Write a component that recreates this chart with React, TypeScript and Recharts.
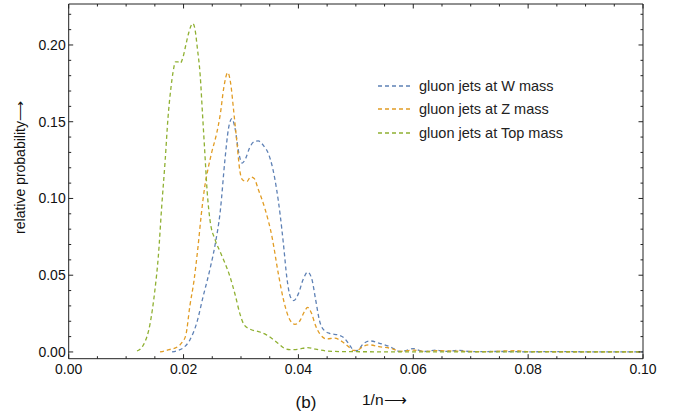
import React from 'react';
import { LineChart, Line, XAxis, YAxis, Legend } from 'recharts';

const wX = [0.018,0.019,0.02,0.0211,0.0223,0.0234,0.0246,0.0255,0.0264,0.0272,0.0278,0.0284,0.029,0.0296,0.0302,0.0308,0.0315,0.0323,0.033,0.034,0.0348,0.0355,0.0362,0.0368,0.0374,0.038,0.0386,0.0392,0.04,0.0408,0.0416,0.0423,0.043,0.0437,0.0445,0.0455,0.047,0.048,0.049,0.0497,0.0503,0.0512,0.0524,0.054,0.056,0.0577,0.059,0.06,0.061,0.062,0.064,0.0655,0.068,0.07,0.075,0.08,0.085,0.09,0.095,0.1];
const wY = [0,0.001,0.0028,0.0078,0.019,0.036,0.054,0.07,0.092,0.125,0.145,0.152,0.145,0.13,0.123,0.126,0.133,0.137,0.1375,0.134,0.129,0.12,0.106,0.09,0.07,0.048,0.036,0.0335,0.038,0.047,0.052,0.048,0.034,0.02,0.014,0.012,0.011,0.009,0.004,0.0008,0.001,0.005,0.0072,0.0058,0.0033,0.0003,0.0012,0.0022,0.001,0.0003,0.0012,0.0004,0.001,0.0002,0.0003,0.0001,0.0002,0.0001,0.0001,0];

const zX = [0.0159,0.0175,0.019,0.0197,0.0204,0.0211,0.0218,0.0225,0.0231,0.0237,0.0243,0.0249,0.0258,0.0264,0.027,0.0277,0.0282,0.0287,0.0293,0.0298,0.0303,0.031,0.0317,0.0323,0.033,0.0342,0.0354,0.0365,0.0374,0.0385,0.0394,0.0402,0.041,0.0416,0.0423,0.043,0.0437,0.0449,0.0463,0.0477,0.0487,0.0495,0.0503,0.0512,0.0524,0.054,0.056,0.0578,0.06,0.062,0.064,0.068,0.072,0.078,0.08,0.09,0.1];
const zY = [0,0.0015,0.0035,0.006,0.011,0.03,0.046,0.068,0.09,0.108,0.12,0.13,0.143,0.155,0.172,0.182,0.175,0.158,0.136,0.118,0.112,0.111,0.114,0.113,0.106,0.093,0.075,0.051,0.034,0.021,0.018,0.02,0.026,0.029,0.025,0.017,0.012,0.0085,0.009,0.0065,0.0035,0.001,0.0012,0.0035,0.0046,0.0035,0.0024,0.0004,0.0012,0.0003,0.0008,0.0005,0.0002,0.0008,0.0002,0.0001,0];

const tX = [0.0119,0.013,0.0142,0.015,0.0156,0.0162,0.0168,0.0173,0.0178,0.0182,0.0186,0.019,0.0194,0.0199,0.0204,0.0209,0.0216,0.022,0.0224,0.0229,0.0233,0.0237,0.0241,0.0246,0.0255,0.0264,0.0272,0.028,0.029,0.0298,0.0305,0.0315,0.0333,0.0345,0.0355,0.0365,0.0375,0.0385,0.04,0.0416,0.043,0.045,0.048,0.055,0.1];
const tY = [0.0006,0.0045,0.019,0.04,0.062,0.095,0.125,0.153,0.172,0.183,0.189,0.189,0.188,0.192,0.2,0.208,0.214,0.21,0.198,0.18,0.155,0.13,0.105,0.086,0.073,0.065,0.058,0.05,0.037,0.025,0.018,0.015,0.013,0.011,0.0085,0.0055,0.0025,0.0015,0.0018,0.0028,0.0018,0.0006,0.0002,0.0001,0];

const seriesKeys = ['w', 'z', 't'];
const seriesNames = ['gluon jets at W mass', 'gluon jets at Z mass', 'gluon jets at Top mass'];
const seriesColors = ['#5E81B5', '#E19C24', '#8FB032'];

const xMajorTicks = [0, 0.02, 0.04, 0.06, 0.08, 0.1];
const xAllTicks = [0,0.005,0.01,0.015,0.02,0.025,0.03,0.035,0.04,0.045,0.05,0.055,0.06,0.065,0.07,0.075,0.08,0.085,0.09,0.095,0.1];
const yMajorTicks = [0, 0.05, 0.1, 0.15, 0.2];
const yAllTicks = [0,0.01,0.02,0.03,0.04,0.05,0.06,0.07,0.08,0.09,0.1,0.11,0.12,0.13,0.14,0.15,0.16,0.17,0.18,0.19,0.2,0.21,0.22];

// merged table for the chart (union of x values)
const buildTable = () => {
  const map = new Map<number, any>();
  const add = (xs: number[], ys: number[], key: string) => {
    xs.forEach((x, i) => {
      const row = map.get(x) || { x };
      row[key] = ys[i];
      map.set(x, row);
    });
  };
  add(wX, wY, 'w');
  add(zX, zY, 'z');
  add(tX, tY, 't');
  return Array.from(map.values()).sort((a, b) => a.x - b.x);
};
const table = buildTable();

const FONT = '"Liberation Sans", Arial, sans-serif';
const X_DOMAIN: [number, number] = [0, 0.1];
const Y_DOMAIN: [number, number] = [-0.0044, 0.2267];
const frameColor = '#222';
const DASH = '4 3';
const MAJ = 4.5;
const MIN = 2.5;

const isMajor = (v: number, majors: number[]) => majors.some((m) => Math.abs(m - v) < 1e-9);

const BottomTick = (p: any) => {
  const v = p.payload.value;
  const major = isMajor(v, xMajorTicks);
  return (
    <g>
      <line x1={p.x} x2={p.x} y1={p.y} y2={p.y - (major ? MAJ : MIN)} stroke={frameColor} />
      {major && (
        <text x={p.x} y={p.y + 15} textAnchor="middle" style={{ fontFamily: FONT, fontSize: 14, fill: '#111' }}>
          {v.toFixed(2)}
        </text>
      )}
    </g>
  );
};
const TopTick = (p: any) => {
  const major = isMajor(p.payload.value, xMajorTicks);
  return <line x1={p.x} x2={p.x} y1={p.y} y2={p.y + (major ? MAJ : MIN)} stroke={frameColor} />;
};
const LeftTick = (p: any) => {
  const v = p.payload.value;
  const major = isMajor(v, yMajorTicks);
  return (
    <g>
      <line x1={p.x} x2={p.x + (major ? MAJ : MIN)} y1={p.y} y2={p.y} stroke={frameColor} />
      {major && (
        <text x={p.x - 3} y={p.y + 5} textAnchor="end" style={{ fontFamily: FONT, fontSize: 14, fill: '#111' }}>
          {v.toFixed(2)}
        </text>
      )}
    </g>
  );
};
const RightTick = (p: any) => {
  const major = isMajor(p.payload.value, yMajorTicks);
  return <line x1={p.x} x2={p.x - (major ? MAJ : MIN)} y1={p.y} y2={p.y} stroke={frameColor} />;
};

const LegendContent = (props: any) => {
  const payload = [...(props.payload || [])].sort(
    (a: any, b: any) => seriesNames.indexOf(a.value) - seriesNames.indexOf(b.value)
  );
  return (
    <div style={{ fontFamily: FONT, fontSize: 14.5, color: '#222' }}>
      {payload.map((p: any, i: number) => (
        <div key={i} style={{ display: 'flex', alignItems: 'center', height: 23.5 }}>
          <svg width={32} height={4} style={{ marginRight: 9 }}>
            <line x1={0} y1={2} x2={32} y2={2} stroke={p.color} strokeWidth={1.3} strokeDasharray={DASH} />
          </svg>
          <span>{p.value}</span>
        </div>
      ))}
    </div>
  );
};

export default function App() {
  return (
    <div style={{ position: 'relative', width: 684, height: 417, background: '#fff' }}>
      <style>{`body{margin:0}`}</style>
      <LineChart width={684} height={417} data={table} margin={{ top: 0, right: 21, bottom: 28.3, left: 8.7 }}>
        <XAxis xAxisId="main" type="number" dataKey="x" domain={X_DOMAIN} ticks={xAllTicks} interval={0}
          height={30} tickSize={0} tickMargin={0} tick={BottomTick} tickLine={false}
          axisLine={{ stroke: frameColor, strokeWidth: 1 }} allowDataOverflow />
        <XAxis xAxisId="top" orientation="top" type="number" dataKey="x" domain={X_DOMAIN} ticks={xAllTicks} interval={0}
          height={4} tickSize={0} tickMargin={0} tick={TopTick} tickLine={false}
          axisLine={{ stroke: frameColor }} allowDataOverflow />
        <YAxis yAxisId="main" type="number" domain={Y_DOMAIN} ticks={yAllTicks} interval={0}
          width={60} tickSize={0} tickMargin={0} tick={LeftTick} tickLine={false}
          axisLine={{ stroke: frameColor }} allowDataOverflow />
        <YAxis yAxisId="right" orientation="right" type="number" domain={Y_DOMAIN} ticks={yAllTicks} interval={0}
          width={20} tickSize={0} tickMargin={0} tick={RightTick} tickLine={false}
          axisLine={{ stroke: frameColor }} allowDataOverflow />
        {seriesKeys.map((k, i) => (
          <Line key={k} xAxisId="main" yAxisId="main" dataKey={k} name={seriesNames[i]} connectNulls
            type="monotone" stroke={seriesColors[i]} strokeWidth={1.3} strokeDasharray={DASH}
            dot={false} activeDot={false} isAnimationActive={false} />
        ))}
        <Legend layout="horizontal" verticalAlign="middle" align="center" content={LegendContent}
          wrapperStyle={{ position: 'absolute', left: 378, top: 74, width: 240 }} />
        <text x={20} y={167.5} transform="rotate(-90 20 167.5)" textAnchor="middle" dominantBaseline="central"
          style={{ fontFamily: FONT, fontSize: 14, fill: '#111' }}>relative probability⟶</text>
        <text x={306} y={402} textAnchor="middle" dominantBaseline="central"
          style={{ fontFamily: FONT, fontSize: 17, fill: '#111' }}>(b)</text>
        <text x={362} y={399} textAnchor="start" dominantBaseline="central"
          style={{ fontFamily: FONT, fontSize: 15.5, fill: '#111' }}>1/n⟶</text>
      </LineChart>
    </div>
  );
}
